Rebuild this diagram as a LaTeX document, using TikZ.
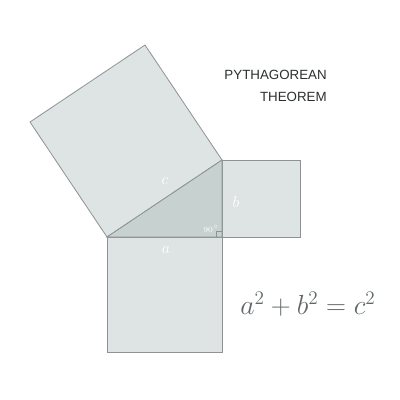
\documentclass[tikz,border=0pt]{standalone}
\usepackage{fontspec}
\usepackage{tikz}
\usetikzlibrary{calc}
\newfontfamily\titlefont{Liberation Sans}

\definecolor{sqfill}{HTML}{DDE4E3}
\definecolor{trifill}{HTML}{C7D1CF}
\definecolor{edgegray}{HTML}{8C9392}
\definecolor{titlegray}{HTML}{2A2F2F}
\definecolor{formgray}{HTML}{62686A}

\tikzset{
  sqshape/.style={draw=edgegray, fill=sqfill, line width=0.6pt},
  trishape/.style={draw=edgegray, fill=trifill, line width=0.6pt},
  sidelabel/.style={text=white, inner sep=0.75pt, font=\fontsize{13}{13}\selectfont},
}

\begin{document}
\begin{tikzpicture}[x=0.75pt,y=0.75pt,yscale=-1,xscale=1]
    \useasboundingbox (0,0) rectangle (400,400);

    % triangle corners
    \coordinate (A) at (107,237);
    \coordinate (C) at (222,237);
    \coordinate (B) at (222,160);
    % outer corners of the squares
    \coordinate (P) at (145,45);
    \coordinate (Q) at (30,122);
    \coordinate (D) at (222,352);
    \coordinate (E) at (107,352);
    \coordinate (F) at (300,160);
    \coordinate (G) at (300,237);

    %Shape: Square on c
    \draw[sqshape] (A) -- (B) -- (P) -- (Q) -- cycle;
    %Shape: Square on a
    \draw[sqshape] (A) -- (C) -- (D) -- (E) -- cycle;
    %Shape: Square on b
    \draw[sqshape] (C) -- (B) -- (F) -- (G) -- cycle;
    %Shape: Triangle
    \draw[trishape] (A) -- (C) -- (B) -- cycle;
    %Right angle mark
    \draw[edgegray, line width=0.5pt] ($(C)+(-6,0)$) -- ($(C)+(-6,-6)$) -- ($(C)+(0,-6)$);

    % Text Node
    \node[sidelabel] (lc) at (165,181) {$c$};
    % Text Node
    \node[sidelabel] (lb) at (236,202) {$b$};
    % Text Node
    \node[sidelabel] (la) at (166,250) {$a$};
    % Text Node
    \node[text=white, inner sep=0.75pt, font=\fontsize{6}{6}\selectfont] (lang) at (211,229) {$90^{\circ}$};
    % Text Node
    \node[anchor=east, align=right, inner sep=0pt, text=titlegray, font=\titlefont\fontsize{10}{16.5}\selectfont] (title) at (327,86) {PYTHAGOREAN\\THEOREM};
    % Text Node
    \node[text=formgray, inner sep=0pt, font=\fontsize{19.5}{19.5}\selectfont] (formula) at (308,304) {$a^2+b^2=c^2$};
\end{tikzpicture}
\end{document}
